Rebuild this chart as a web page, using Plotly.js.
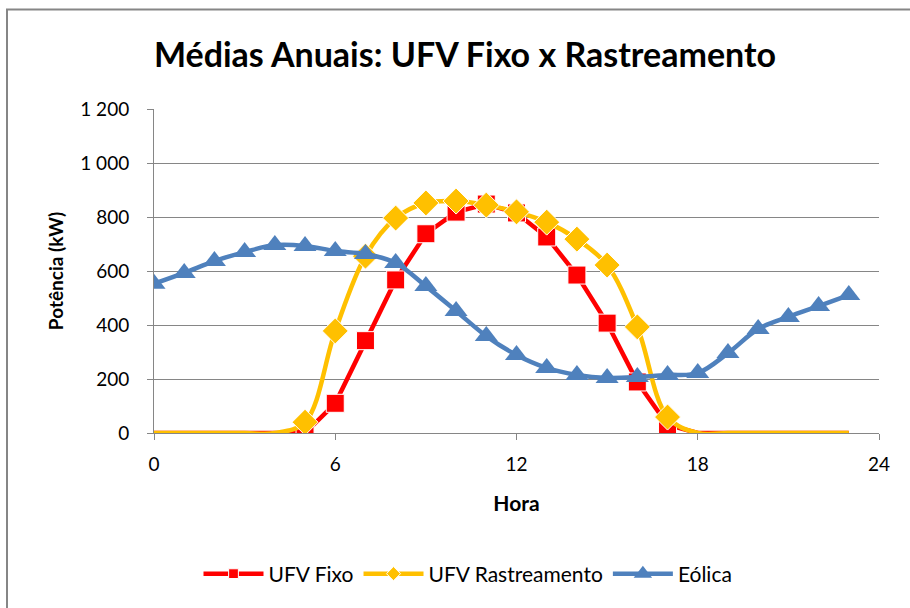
<!DOCTYPE html>
<html>
<head>
<meta charset="utf-8">
<script src="https://cdn.plot.ly/plotly-3.0.1.min.js"></script>
<style>html,body{margin:0;padding:0;background:#fff;}#chart{width:910px;height:608px;}</style>
</head>
<body>
<div id="chart"></div>
<script>
const hours = [0,1,2,3,4,5,6,7,8,9,10,11,12,13,14,15,16,17,18,19,20,21,22,23];
const ufvFixo = [0,0,0,0,0,0,110,342,567,738,818,848,815,726,585,407,189,30,0,0,0,0,0,0];
const ufvRastreamento = [0,0,0,0,0,40,378,655,796,852,859,844,819,781,718,622,393,59,0,0,0,0,0,0];
const eolica = [553,593,637,670,696,693,674,663,630,544,452,359,289,241,215,204,207,215,222,296,385,430,470,511];
const seriesNames = ['UFV Fixo','UFV Rastreamento','Eólica'];
const yTickVals = [0,200,400,600,800,1000,1200];
const yTickText = ['0','200','400','600','800','1 000','1 200'];
const xTickVals = [0,6,12,18,24];

const font = 'Lato, "Open Sans", sans-serif';
const solarMarkerSize = hours.map(h => (h >= 5 && h <= 17) ? 18 : 0);

const traces = [
  {x: hours, y: ufvFixo, name: seriesNames[0], type: 'scatter', mode: 'lines+markers',
   line: {color: '#FF0000', width: 4.5},
   marker: {symbol: 'square', color: '#FF0000', opacity: 1, size: solarMarkerSize}},
  {x: hours, y: ufvRastreamento, name: seriesNames[1], type: 'scatter', mode: 'lines+markers',
   line: {color: '#FFC000', width: 4.5, shape: 'spline', smoothing: 1},
   marker: {symbol: 'diamond', color: '#FFC000', opacity: 1, size: solarMarkerSize.map(s => s ? s + 2 : 0)}},
  {x: hours, y: eolica, name: seriesNames[2], type: 'scatter', mode: 'lines+markers',
   line: {color: '#4F81BD', width: 4.5, shape: 'spline', smoothing: 1},
   marker: {symbol: 'triangle-up', color: '#4F81BD', opacity: 1, size: 20}}
];

const layout = {
  width: 910, height: 608,
  margin: {l: 154, r: 31, t: 109, b: 175},
  paper_bgcolor: '#fff', plot_bgcolor: '#fff',
  font: {family: font, size: 19, color: '#000'},
  title: {text: 'Médias Anuais: UFV Fixo x Rastreamento', font: {family: font, size: 34, color: '#000', weight: 'bold'},
          x: 465 / 910, xanchor: 'center', xref: 'container', y: 1 - 55 / 608, yanchor: 'middle', yref: 'container'},
  xaxis: {range: [0, 24], tickvals: xTickVals, ticks: 'outside', ticklen: 6, tickcolor: '#868686',
          showline: true, linecolor: '#868686', linewidth: 1, showgrid: false, zeroline: false,
          tickfont: {size: 19, family: font}, fixedrange: true, ticklabelstandoff: 8,
          title: {text: 'Hora', font: {size: 21, family: font, weight: 'bold'}, standoff: 22}},
  yaxis: {range: [0, 1200], tickvals: yTickVals, ticktext: yTickText, ticks: 'outside', ticklen: 6, tickcolor: '#868686',
          showline: true, linecolor: '#868686', linewidth: 1, showgrid: true, gridcolor: '#868686', gridwidth: 1,
          zeroline: false, tickfont: {size: 19, family: font}, fixedrange: true, ticklabelstandoff: 14,
          title: {text: 'Potência (kW)', font: {size: 19, family: font, weight: 'bold'}, standoff: 11}},
  showlegend: true,
  legend: {orientation: 'h', x: 468 / 910, xref: 'container', xanchor: 'center', y: 1 - 574 / 608, yref: 'container', yanchor: 'middle',
           font: {size: 21, family: font}, tracegroupgap: 0, traceorder: 'normal', itemwidth: 60},
  shapes: [{type: 'rect', xref: 'paper', yref: 'paper',
            x0: (7 - 154) / 725, x1: (1000 - 154) / 725, y0: -1, y1: 1 + (109 - 9.5) / 324,
            line: {color: '#868686', width: 2}, fillcolor: 'rgba(0,0,0,0)', layer: 'below'}]
};

Plotly.newPlot('chart', traces, layout, {displayModeBar: false, staticPlot: true});
</script>
</body>
</html>
